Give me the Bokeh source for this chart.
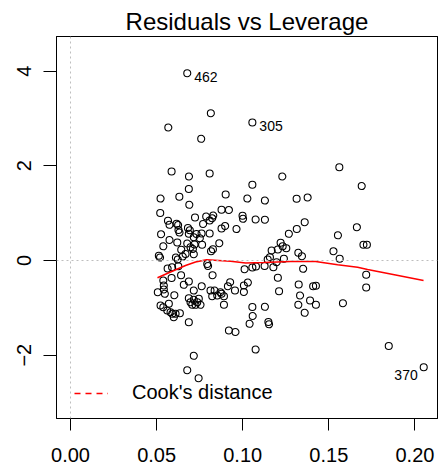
from bokeh.plotting import figure
from bokeh.models import Range1d, Span, FixedTicker, Legend, LegendItem, LinearAxis
from bokeh.embed import file_html
from bokeh.resources import INLINE

# ---- data ----
leverage = [0.0678, 0.0815, 0.0568, 0.0759, 0.1056, 0.0587, 0.0688, 0.0808, 0.1230, 0.1561,
            0.1691, 0.0687, 0.0901, 0.1056, 0.0523, 0.0632, 0.1027, 0.1129, 0.1313, 0.1377,
            0.0690, 0.0521, 0.0723, 0.0566, 0.0575, 0.0616, 0.0625, 0.0788, 0.0823, 0.0829,
            0.0808, 0.0770, 0.0877, 0.0920, 0.0999, 0.1002, 0.1075, 0.1129, 0.0877, 0.0898,
            0.0964, 0.0526, 0.0575, 0.0627, 0.0633, 0.0682, 0.0693, 0.0687, 0.0732, 0.0761,
            0.0716, 0.0751, 0.0808, 0.0864, 0.0539, 0.0620, 0.0678, 0.0697, 0.0711, 0.0720,
            0.0764, 0.0643, 0.0827, 0.0816, 0.0513, 0.0520, 0.0612, 0.0623, 0.0652, 0.0668,
            0.0716, 0.1268, 0.1314, 0.1360, 0.1663, 0.1553, 0.1701, 0.1721, 0.1220, 0.1232,
            0.1253, 0.1204, 0.1168, 0.1158, 0.1145, 0.1239, 0.1323, 0.1344, 0.1527, 0.1563,
            0.1197, 0.1178, 0.1127, 0.0794, 0.0799, 0.0564, 0.0590, 0.0626, 0.1011, 0.1056,
            0.1077, 0.1351, 0.1717, 0.1204, 0.1211, 0.1717, 0.1325, 0.1409, 0.1425, 0.1333,
            0.0927, 0.0955, 0.1007, 0.1030, 0.1007, 0.0914, 0.0642, 0.0587, 0.0825, 0.0539,
            0.0542, 0.0542, 0.0548, 0.0507, 0.0603, 0.0658, 0.0687, 0.0716, 0.0762, 0.0813,
            0.0837, 0.0852, 0.0823, 0.0871, 0.0877, 0.0891, 0.0687, 0.0697, 0.0716, 0.0736,
            0.0755, 0.0745, 0.0726, 0.0707, 0.0523, 0.0539, 0.0571, 0.0562, 0.0581, 0.0591,
            0.0610, 0.0600, 0.0635, 0.0687, 0.0891, 0.0920, 0.0958, 0.1056, 0.1129, 0.1058,
            0.1040, 0.1149, 0.1153, 0.1323, 0.1360, 0.1391, 0.1425, 0.1582, 0.1075, 0.1848,
            0.0716, 0.0678, 0.0744, 0.2051]
std_resid = [3.956, 3.111, 2.809, 2.570, 2.915, 1.880, 1.774, 1.837, 1.774, 1.971,
             1.573, 1.510, 1.394, 1.601, 1.309, 1.345, 1.309, 1.267, 1.303, 1.331,
             1.176, 1.003, 0.908, 0.838, 0.754, 0.775, 0.750, 0.929, 0.893, 0.950,
             0.845, 0.771, 1.071, 1.067, 0.944, 0.881, 0.866, 0.862, 0.676, 0.729,
             0.665, 0.555, 0.433, 0.644, 0.591, 0.686, 0.640, 0.564, 0.560, 0.570,
             0.492, 0.471, 0.570, 0.365, 0.300, 0.380, 0.359, 0.281, 0.243, 0.338,
             0.332, 0.228, 0.237, 0.196, 0.101, 0.063, 0.063, 0.021, 0.084, 0.137,
             0.133, 0.564, 0.665, 0.809, 0.703, 0.532, 0.334, 0.334, 0.374, 0.302,
             0.260, 0.232, 0.211, 0.070, 0.021, 0.036, 0.163, 0.091, 0.196, 0.036,
             -0.036, -0.142, -0.116, -0.074, -0.116, -0.169, -0.142, -0.120, -0.184, -0.148,
             -0.127, -0.175, -0.302, -0.365, -0.648, -0.570, -0.507, -0.545, -0.532, -0.739,
             -0.458, -0.634, -0.528, -0.465, -0.665, -0.543, -0.310, -0.370, -0.310, -0.422,
             -0.528, -0.612, -0.703, -0.670, -0.733, -0.513, -0.444, -0.634, -0.543, -0.634,
             -0.634, -0.739, -0.754, -0.670, -0.703, -0.754, -0.796, -0.881, -0.830, -0.881,
             -0.936, -0.809, -0.936, -0.936, -0.950, -0.986, -0.914, -1.056, -1.092, -1.126,
             -1.126, -1.197, -1.113, -1.305, -0.936, -1.478, -1.510, -0.982, -0.978, -1.172,
             -1.337, -1.299, -1.347, -0.936, -1.105, -0.845, -0.936, -0.902, -1.880, -1.806,
             -2.013, -2.317, -2.486, -2.254]

# smoother (red line)
smooth_lev = [0.0505, 0.0581, 0.0668, 0.0726, 0.0790, 0.0859, 0.0930, 0.1017, 0.1121,
              0.1278, 0.1423, 0.1551, 0.1667, 0.1725, 0.1888, 0.2050]
smooth_res = [-0.365, -0.243, -0.106, -0.032, 0.015, 0.000, -0.015, -0.053, -0.042,
              -0.021, -0.021, -0.091, -0.141, -0.190, -0.306, -0.422]

# labelled points
lab_right_lev = [0.0678, 0.1056]
lab_right_res = [3.956, 2.915]
lab_right_txt = ["462", "305"]
lab_left_lev = [0.2051]
lab_left_res = [-2.254]
lab_left_txt = ["370"]

# Cook's distance contours fall outside the visible range: legend entry only
cook_lev = [float("nan")]
cook_res = [float("nan")]

x_ticks = [0.0, 0.05, 0.10, 0.15, 0.20]
x_tick_labels = ["0.00", "0.05", "0.10", "0.15", "0.20"]
y_ticks = [-2, 0, 2, 4]

# axis limits
x_lim = (-0.00813, 0.2131)
y_lim = (-3.337, 4.731)

FONT = "Liberation Sans"

p = figure(width=445, height=472,
           x_range=Range1d(*x_lim), y_range=Range1d(*y_lim),
           output_backend="svg", toolbar_location=None,
           min_border_left=56, min_border_right=8, min_border_top=36, min_border_bottom=54,
           title="Residuals vs Leverage")

p.title.text_font = FONT
p.title.text_font_size = "24px"
p.title.text_font_style = "normal"
p.title.text_color = "black"
p.title.align = "center"
p.title.standoff = 3

p.outline_line_color = "black"
p.outline_line_width = 1
p.outline_line_alpha = 1
p.xgrid.visible = False
p.ygrid.visible = False
p.background_fill_color = "white"
p.border_fill_color = "white"

for ax in (p.xaxis, p.yaxis):
    ax.axis_line_color = "black"
    ax.axis_line_width = 1
    ax.major_tick_line_color = "black"
    ax.major_tick_in = 0
    ax.minor_tick_line_color = None
    ax.major_label_text_font = FONT
    ax.major_label_text_font_size = "20px"
    ax.major_label_text_color = "black"

p.xaxis.ticker = FixedTicker(ticks=x_ticks)
p.xaxis.major_label_overrides = {t: l for t, l in zip(x_ticks, x_tick_labels)}
p.xaxis.major_tick_out = 12
p.xaxis.major_label_standoff = 17
p.yaxis.ticker = FixedTicker(ticks=y_ticks)
p.yaxis.major_tick_out = 13
p.yaxis.major_label_standoff = 12
p.yaxis.major_label_orientation = "vertical"

# box edges on top and right: label-less axes whose line closes the box
for side, ticks in (("above", x_ticks), ("right", y_ticks)):
    edge = LinearAxis(ticker=FixedTicker(ticks=ticks),
                      axis_line_color="black", axis_line_width=1,
                      major_tick_out=0, major_tick_in=0, major_tick_line_color=None,
                      minor_tick_line_color=None,
                      major_label_standoff=0, major_label_text_font_size="1px",
                      major_label_overrides={t: "" for t in ticks})
    p.add_layout(edge, side)

# reference lines
p.add_layout(Span(location=0, dimension="width", line_color="#BEBEBE", line_dash="2 3", line_width=1))
p.add_layout(Span(location=0, dimension="height", line_color="#BEBEBE", line_dash="2 3", line_width=1))

# points
p.scatter(leverage, std_resid, marker="circle", size=7, fill_color=None,
          line_color="black", line_width=1.1)

# smoother
p.line(smooth_lev, smooth_res, line_color="red", line_width=1.5)

# labels
p.text(lab_right_lev, lab_right_res, text=lab_right_txt, text_font_size="14px",
       text_baseline="middle", text_align="left", x_offset=7, y_offset=4,
       text_color="black", text_font={"value": FONT})
p.text(lab_left_lev, lab_left_res, text=lab_left_txt, text_font_size="14px",
       text_baseline="middle", text_align="right", x_offset=-6, y_offset=8,
       text_color="black", text_font={"value": FONT})

# Cook's distance legend
cook_r = p.line(cook_lev, cook_res, line_color="#FF0000", line_dash="6 5", line_width=1.6)
legend = Legend(items=[LegendItem(label="Cook's distance", renderers=[cook_r])],
                location=(18, 14), orientation="vertical")
legend.border_line_color = None
legend.background_fill_alpha = 0
legend.padding = 0
legend.margin = 0
legend.spacing = 0
legend.glyph_width = 34
legend.glyph_height = 20
legend.label_standoff = 24
legend.label_text_font = FONT
legend.label_text_font_size = "20px"
legend.label_text_color = "black"
legend.label_height = 20
p.add_layout(legend, "center")

open("out.html", "w").write(file_html(p, INLINE))
